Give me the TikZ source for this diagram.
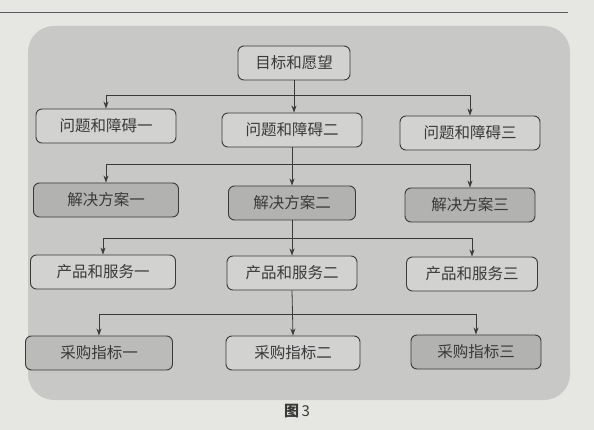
\documentclass[tikz,border=0pt]{standalone}
\usepackage{fontspec}
\setmainfont{Noto Sans CJK SC}
\newfontfamily\cjkbold[BoldFont={Noto Sans CJK SC Bold}]{Noto Sans CJK SC}
\usetikzlibrary{arrows.meta}
\definecolor{pagebg}{HTML}{E6E6E3}
\definecolor{panelbg}{HTML}{C8C8C6}
\definecolor{lightbox}{HTML}{D2D2D0}
\definecolor{darkbox}{HTML}{B2B2B0}
\definecolor{midbox}{HTML}{BBBBB9}
\definecolor{inkc}{HTML}{3A3A3A}
\tikzset{
  box/.style={draw=inkc, line width=0.9pt, rounded corners=6pt, minimum width=140pt,
    minimum height=34pt, inner sep=0pt, text=inkc, font=\fontsize{15.5pt}{18pt}\selectfont},
  lbox/.style={box, fill=lightbox},
  dbox/.style={box, fill=darkbox},
  mbox/.style={box, fill=midbox},
  conn/.style={draw=inkc, line width=0.8pt},
  arr/.style={conn, -{Stealth[length=7pt,width=5pt]}}
}
\begin{document}
\begin{tikzpicture}[x=1pt,y=-1pt]
\useasboundingbox (0,0) rectangle (594,430);
\fill[pagebg] (0,0) rectangle (594,430);
\draw[color=gray!70!black, line width=0.8pt] (0,12) -- (568,12);
\fill[panelbg, rounded corners=26pt] (28,26) rectangle (570,400);

\node[lbox, minimum width=112pt] (goal) at (294,63) {目标和愿望};

\node[lbox] (p1) at (106,126) {问题和障碍一};
\node[lbox] (p2) at (292,130) {问题和障碍二};
\node[lbox] (p3) at (470,133) {问题和障碍三};

\node[dbox, minimum width=145pt] (s1) at (106,200) {解决方案一};
\node[dbox, minimum width=127pt] (s2) at (292,203) {解决方案二};
\node[dbox, minimum width=130pt] (s3) at (470,205) {解决方案三};

\node[lbox, minimum width=145pt] (g1) at (103,272) {产品和服务一};
\node[lbox, minimum width=130pt] (g2) at (292,273) {产品和服务二};
\node[lbox, minimum width=131pt] (g3) at (472,274) {产品和服务三};

\node[mbox, minimum width=147pt] (k1) at (99,353) {采购指标一};
\node[lbox, minimum width=134pt] (k2) at (293,353) {采购指标二};
\node[darkbox, box, fill=darkbox, minimum width=130pt] (k3) at (476,352) {采购指标三};

% level 1 -> 2
\coordinate (b1) at (0,95);
\draw[arr] (goal.south) -- (goal.south |- p2.north);
\draw[conn] (p1.north |- b1) -- (p3.north |- b1);
\draw[arr] (p1.north |- b1) -- (p1.north);
\draw[arr] (p3.north |- b1) -- (p3.north);

% level 2 -> 3
\coordinate (b2) at (0,164);
\draw[arr] (p2.south) -- (s2.north);
\draw[conn] (s1.north |- b2) -- (s3.north |- b2);
\draw[arr] (s1.north |- b2) -- (s1.north);
\draw[arr] (s3.north |- b2) -- (s3.north);

% level 3 -> 4
\coordinate (b3) at (0,238);
\draw[arr] (s2.south) -- (g2.north);
\draw[conn] (g1.north |- b3) -- (g3.north |- b3);
\draw[arr] (g1.north |- b3) -- (g1.north);
\draw[arr] (g3.north |- b3) -- (g3.north);

% level 4 -> 5
\coordinate (b4) at (0,314);
\draw[arr] (g2.south) -- (k2.north);
\draw[conn] (k1.north |- b4) -- (k3.north |- b4);
\draw[arr] (k1.north |- b4) -- (k1.north);
\draw[arr] (k3.north |- b4) -- (k3.north);

\node[text=inkc, font=\fontsize{15pt}{18pt}\selectfont] (cap) at (297,411) {\textbf{图}\,3};
\end{tikzpicture}
\end{document}
